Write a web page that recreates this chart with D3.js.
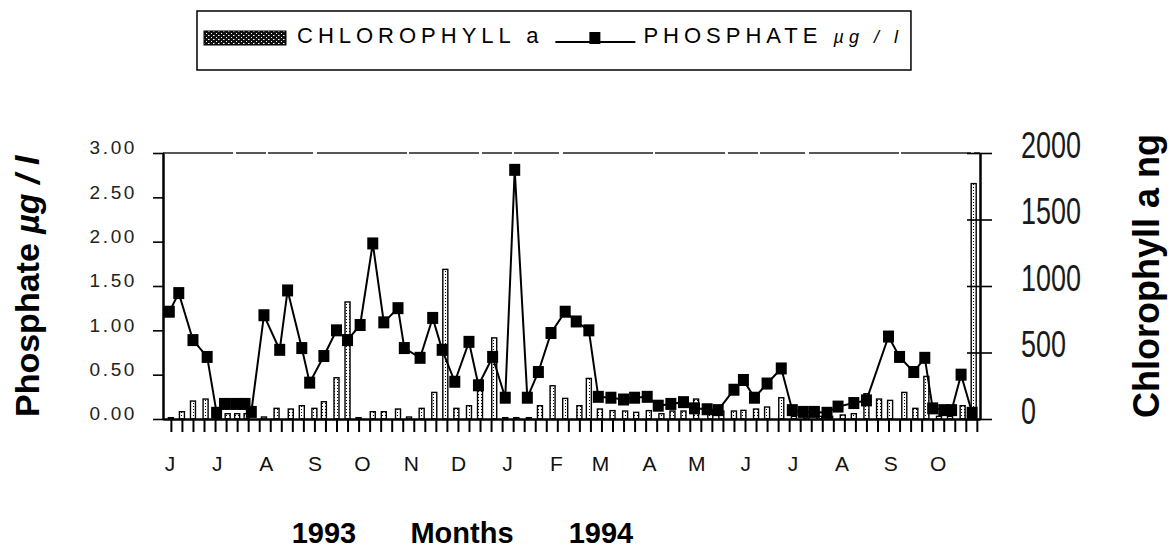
<!DOCTYPE html>
<html>
<head>
  <meta charset="utf-8">
  <title>Phosphate and chlorophyll a, 1993-1994</title>
  <script src="https://cdnjs.cloudflare.com/ajax/libs/d3/7.8.5/d3.min.js"></script>
  <style>
    html,
    body {
      margin: 0;
      padding: 0;
      background: #fff;
    }

    svg {
      display: block;
      font-family: "Liberation Sans", Arial, sans-serif;
    }
  </style>
</head>

<body>

  <svg id="chart" width="1174" height="548"></svg>

  <script>

    // phosphate samples, µg/l
    let phosDates = [
      '1993-06-05', '1993-06-11', '1993-06-20', '1993-06-29', '1993-07-05', '1993-07-10', '1993-07-17',
      '1993-07-23', '1993-07-27', '1993-08-04', '1993-08-14', '1993-08-19', '1993-08-28', '1993-09-02',
      '1993-09-11', '1993-09-19', '1993-09-26', '1993-10-04', '1993-10-12', '1993-10-19', '1993-10-28',
      '1993-11-01', '1993-11-11', '1993-11-19', '1993-11-25', '1993-12-03', '1993-12-12', '1993-12-18',
      '1993-12-27', '1994-01-04', '1994-01-10', '1994-01-18', '1994-01-25', '1994-02-02', '1994-02-11',
      '1994-02-18', '1994-02-26', '1994-03-04', '1994-03-12', '1994-03-20', '1994-03-27', '1994-04-04',
      '1994-04-11', '1994-04-19', '1994-04-27', '1994-05-04', '1994-05-12', '1994-05-19', '1994-05-29',
      '1994-06-04', '1994-06-11', '1994-06-19', '1994-06-28', '1994-07-05', '1994-07-12', '1994-07-19',
      '1994-07-27', '1994-08-03', '1994-08-13', '1994-08-21', '1994-09-04', '1994-09-11', '1994-09-20',
      '1994-09-27', '1994-10-02', '1994-10-09', '1994-10-14', '1994-10-20', '1994-10-27'
    ]
    let phosValues = [
      1.21, 1.42, 0.89, 0.70, 0.07, 0.17, 0.17,
      0.17, 0.08, 1.17, 0.78, 1.45, 0.80, 0.41,
      0.71, 1.00, 0.89, 1.06, 1.98, 1.09, 1.25,
      0.80, 0.69, 1.14, 0.78, 0.42, 0.87, 0.38,
      0.70, 0.24, 2.81, 0.24, 0.53, 0.97, 1.21,
      1.10, 1.00, 0.25, 0.24, 0.22, 0.24, 0.25,
      0.15, 0.17, 0.19, 0.12, 0.11, 0.10, 0.33,
      0.44, 0.24, 0.40, 0.57, 0.10, 0.08, 0.08,
      0.07, 0.14, 0.18, 0.21, 0.93, 0.70, 0.53,
      0.69, 0.12, 0.10, 0.10, 0.50, 0.07
    ]

    // chlorophyll a samples, ng
    let chlDates = [
      '1993-06-06', '1993-06-13', '1993-06-20', '1993-06-28', '1993-07-05', '1993-07-12', '1993-07-18',
      '1993-07-24', '1993-08-04', '1993-08-12', '1993-08-21', '1993-08-28', '1993-09-05', '1993-09-11',
      '1993-09-19', '1993-09-26', '1993-10-03', '1993-10-12', '1993-10-19', '1993-10-28', '1993-11-04',
      '1993-11-12', '1993-11-20', '1993-11-27', '1993-12-04', '1993-12-12', '1993-12-19', '1993-12-28',
      '1994-01-04', '1994-01-11', '1994-01-19', '1994-01-26', '1994-02-03', '1994-02-11', '1994-02-20',
      '1994-02-26', '1994-03-05', '1994-03-13', '1994-03-21', '1994-03-28', '1994-04-05', '1994-04-13',
      '1994-04-20', '1994-04-27', '1994-05-05', '1994-05-14', '1994-05-21', '1994-05-29', '1994-06-04',
      '1994-06-12', '1994-06-19', '1994-06-28', '1994-07-06', '1994-07-14', '1994-07-22', '1994-07-29',
      '1994-08-06', '1994-08-13', '1994-08-21', '1994-08-29', '1994-09-05', '1994-09-14', '1994-09-21',
      '1994-09-28', '1994-10-06', '1994-10-13', '1994-10-21', '1994-10-28'
    ]
    let chlValues = [
      10, 55, 135, 150, 20, 40, 40,
      40, 15, 80, 75, 100, 80, 130,
      310, 880, 10, 55, 55, 75, 15,
      80, 200, 1125, 80, 100, 290, 610,
      10, 10, 10, 100, 250, 155, 100,
      305, 75, 63, 60, 50, 63, 40,
      60, 60, 150, 60, 60, 60, 65,
      75, 90, 160, 20, 20, 20, 20,
      30, 40, 190, 150, 140, 200, 80,
      320, 20, 20, 100, 1770
    ]

    let monthLetters = ['J', 'J', 'A', 'S', 'O', 'N', 'D', 'J', 'F', 'M', 'A', 'M', 'J', 'J', 'A', 'S', 'O']
    let phosTicks = [0, 0.5, 1, 1.5, 2, 2.5, 3]
    let chlTicks = [0, 500, 1000, 1500, 2000]
    let yearLabels = ['1993', 'Months', '1994']

    const svg = d3.select('#chart')
    const plotLeft = 163, plotRight = 980, plotTop = 153, plotBottom = 419

    const parse = d3.timeParse('%Y-%m-%d')
    const start = new Date(1993, 5, 1)
    const end = new Date(1994, 10, 1)

    const x = d3.scaleTime().domain([start, end]).range([plotLeft, plotRight])
    const yPhos = d3.scaleLinear().domain([0, 3]).range([plotBottom, plotTop])
    const yChl = d3.scaleLinear().domain([0, 2000]).range([plotBottom, plotTop])

    const phos = phosDates.map((d, i) => ({ date: parse(d), value: phosValues[i] }))
    const chl = chlDates.map((d, i) => ({ date: parse(d), value: chlValues[i] }))

    // fill patterns: stippled bars, dark speckled legend swatch
    const defs = svg.append('defs')
    const dots = defs.append('pattern').attr('id', 'dots')
      .attr('width', 3).attr('height', 3).attr('patternUnits', 'userSpaceOnUse')
    dots.append('rect').attr('width', 3).attr('height', 3).attr('fill', '#fff')
    dots.append('rect').attr('x', 1).attr('y', 1).attr('width', 1).attr('height', 1).attr('fill', '#000')

    const speck = defs.append('pattern').attr('id', 'speck')
      .attr('width', 5).attr('height', 4).attr('patternUnits', 'userSpaceOnUse')
    speck.append('rect').attr('width', 5).attr('height', 4).attr('fill', '#111')
    speck.append('rect').attr('x', 1).attr('y', 1).attr('width', 1).attr('height', 1).attr('fill', '#fff')
    speck.append('rect').attr('x', 3).attr('y', 3).attr('width', 1.5).attr('height', 1).attr('fill', '#fff')

    // chlorophyll bars
    svg.append('g')
      .selectAll('rect')
      .data(chl)
      .join('rect')
      .attr('x', d => x(d.date) - 2.5)
      .attr('y', d => yChl(d.value))
      .attr('width', 5)
      .attr('height', d => plotBottom - yChl(d.value))
      .attr('fill', 'url(#dots)')
      .attr('stroke', '#000')
      .attr('stroke-width', 1.4)

    // phosphate line and square markers
    const line = d3.line().x(d => x(d.date)).y(d => yPhos(d.value))
    svg.append('path')
      .datum(phos)
      .attr('d', line)
      .attr('fill', 'none')
      .attr('stroke', '#000')
      .attr('stroke-width', 2)

    svg.append('g')
      .selectAll('rect')
      .data(phos)
      .join('rect')
      .attr('x', d => x(d.date) - 5.5)
      .attr('y', d => yPhos(d.value) - 6)
      .attr('width', 11)
      .attr('height', 12)
      .attr('fill', '#000')

    // top frame, thin and broken like the scan
    svg.append('line')
      .attr('x1', plotLeft).attr('x2', plotRight).attr('y1', plotTop).attr('y2', plotTop)
      .attr('stroke', '#222').attr('stroke-width', 1.5)
      .attr('stroke-dasharray', '70,3,30,2,45,4,90,2')

    // bottom axis: weekly ticks
    svg.append('g')
      .attr('transform', `translate(0,${plotBottom})`)
      .call(d3.axisBottom(x).ticks(d3.timeWeek.every(1)).tickSize(13).tickSizeOuter(0).tickFormat(''))
      .call(g => g.select('.domain').attr('stroke-width', 2.5))
      .call(g => g.selectAll('.tick line').attr('stroke-width', 2))

    // month letters
    svg.append('g')
      .selectAll('text')
      .data(d3.timeMonth.range(start, end))
      .join('text')
      .attr('x', d => x(d) + 7)
      .attr('y', 471)
      .attr('text-anchor', 'middle')
      .attr('font-size', 21)
      .attr('fill', '#111')
      .text((d, i) => monthLetters[i])

    // left axis (phosphate)
    svg.append('g')
      .attr('transform', `translate(${plotLeft},0)`)
      .call(d3.axisLeft(yPhos).tickValues(phosTicks).tickFormat(d3.format('.2f')).tickSizeOuter(0).tickPadding(20))
      .call(g => g.select('.domain').attr('stroke-width', 2.5))
      .call(g => g.selectAll('.tick line').attr('x1', 1).attr('x2', -10).attr('stroke-width', 1.6))
      .call(g => g.selectAll('.tick text')
        .attr('font-size', 19).attr('letter-spacing', 2.6).attr('dy', '0.05em')
        .attr('fill', '#222').attr('font-family', '"Liberation Sans", Arial, sans-serif'))

    // right axis (chlorophyll)
    svg.append('g')
      .attr('transform', `translate(${plotRight},0)`)
      .call(d3.axisRight(yChl).tickValues(chlTicks).tickFormat(d3.format('d')).tickSizeOuter(0).tickPadding(35))
      .call(g => g.select('.domain').attr('stroke-width', 2.5))
      .call(g => g.selectAll('.tick line').attr('x1', -13).attr('x2', 12).attr('stroke-width', 1.6))
      .call(g => g.selectAll('.tick text')
        .attr('font-size', 36).attr('dy', '0.12em').attr('fill', '#1a1a1a')
        .attr('textLength', d => String(d).length * 15)
        .attr('lengthAdjust', 'spacingAndGlyphs')
        .attr('font-family', '"Liberation Sans", Arial, sans-serif'))

    // axis titles
    const leftTitle = svg.append('text')
      .attr('transform', 'translate(39,417) rotate(-90)')
      .attr('font-size', 34)
      .attr('font-weight', 'bold')
    leftTitle.append('tspan').text('Phosphate ')
    leftTitle.append('tspan').attr('font-style', 'italic').text('µg / l')

    svg.append('text')
      .attr('transform', 'translate(1159,418) rotate(-90)')
      .attr('font-size', 36)
      .attr('font-weight', 'bold')
      .text('Chlorophyll a ng')

    svg.append('g')
      .selectAll('text')
      .data(yearLabels)
      .join('text')
      .attr('x', (d, i) => [324, 462, 601][i])
      .attr('y', 543)
      .attr('text-anchor', 'middle')
      .attr('font-size', 29)
      .attr('font-weight', 'bold')
      .text(d => d)

    // legend
    const legend = svg.append('g')
    const legendFont = { size: 22, spacing: 5 }

    legend.append('rect')
      .attr('x', 204).attr('y', 31).attr('width', 82).attr('height', 14)
      .attr('fill', 'url(#speck)').attr('stroke', '#000')

    const chlText = legend.append('text')
      .attr('x', 297).attr('y', 43)
      .attr('font-size', legendFont.size).attr('letter-spacing', legendFont.spacing)
      .text('CHLOROPHYLL a')

    const lineStart = 297 + chlText.node().getComputedTextLength() + 12
    legend.append('line')
      .attr('x1', lineStart).attr('x2', lineStart + 80).attr('y1', 42).attr('y2', 42)
      .attr('stroke', '#000').attr('stroke-width', 2)
    legend.append('rect')
      .attr('x', lineStart + 34).attr('y', 32).attr('width', 11).attr('height', 12)
      .attr('fill', '#000')

    const phText = legend.append('text')
      .attr('x', lineStart + 88).attr('y', 43)
      .attr('font-size', legendFont.size).attr('letter-spacing', legendFont.spacing)
    phText.append('tspan').text('PHOSPHATE ')
    phText.append('tspan').attr('font-style', 'italic').attr('font-size', 18).text('µg / l')

    const legendEnd = lineStart + 88 + phText.node().getComputedTextLength() + 8
    legend.insert('rect', ':first-child')
      .attr('x', 197).attr('y', 11).attr('width', legendEnd - 197).attr('height', 59)
      .attr('fill', 'none').attr('stroke', '#000').attr('stroke-width', 1.5)

  </script>

</body>

</html>
